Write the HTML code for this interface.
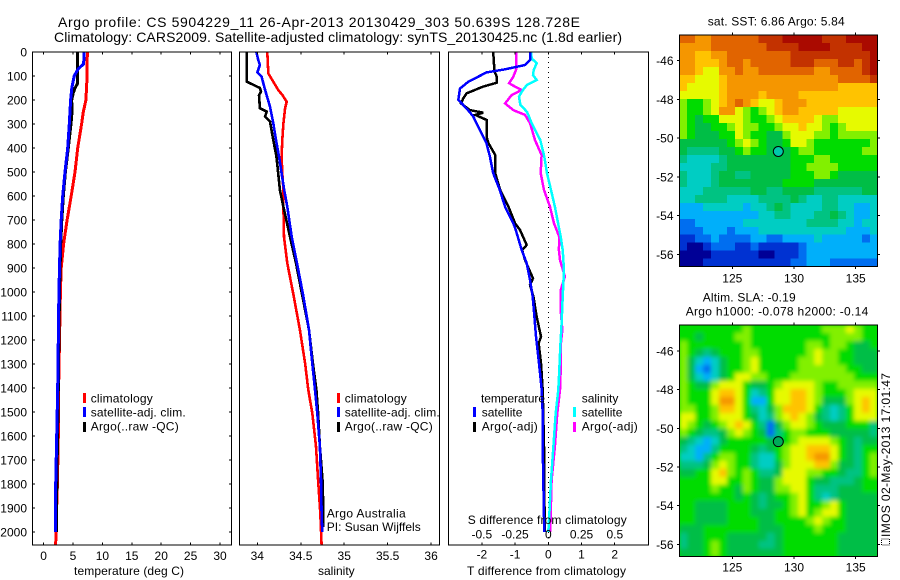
<!DOCTYPE html>
<html>
<head>
<meta charset="utf-8">
<title>Argo profile 5904229</title>
<style>
html,body{margin:0;padding:0;background:#fff;width:900px;height:580px;overflow:hidden}
svg{display:block}
text{font-family:"Liberation Sans",sans-serif;font-size:12px;fill:#000}
.title{font-size:14px}
</style>
</head>
<body>
<svg id="fig" xmlns="http://www.w3.org/2000/svg" width="900" height="580" viewBox="0 0 900 580">
<defs>
<filter id="smooth" x="-5%" y="-5%" width="110%" height="110%"><feGaussianBlur stdDeviation="2.2"/></filter>
<clipPath id="clip-sla"><rect x="679.3" y="325" width="198.4" height="231.7"/></clipPath>
</defs>
<text class="title" x="58" y="27" textLength="522" lengthAdjust="spacing">Argo profile: CS 5904229_11 26-Apr-2013 20130429_303 50.639S 128.728E</text>
<text class="title" x="54" y="42" textLength="568" lengthAdjust="spacing">Climatology: CARS2009. Satellite-adjusted climatology: synTS_20130425.nc (1.8d earlier)</text>
<g id="layer-maps"></g>
<g id="layer-profiles"></g>

<text x="74" y="575" textLength="110">temperature (deg C)</text>
<text x="318" y="575">salinity</text>
<text x="467" y="575" textLength="159">T difference from climatology</text>
<text x="467.7" y="524" textLength="159">S difference from climatology</text>

<g>
<rect x="83" y="393" width="3" height="10" fill="#f00"/>
<rect x="83" y="407" width="3" height="10" fill="#00f"/>
<rect x="83" y="422" width="3" height="10" fill="#000"/>
<text x="90.7" y="402.7" textLength="62">climatology</text>
<text x="90.7" y="416.7" textLength="95">satellite-adj. clim.</text>
<text x="90.7" y="430.7" textLength="88">Argo(..raw -QC)</text>
</g>
<g>
<rect x="337" y="393" width="3" height="10" fill="#f00"/>
<rect x="337" y="407" width="3" height="10" fill="#00f"/>
<rect x="337" y="422" width="3" height="10" fill="#000"/>
<text x="344.7" y="402.7" textLength="62">climatology</text>
<text x="344.7" y="416.7" textLength="95">satellite-adj. clim.</text>
<text x="344.7" y="430.7" textLength="88">Argo(..raw -QC)</text>
<text x="326.7" y="517.3" textLength="79">Argo Australia</text>
<text x="326.7" y="531" textLength="94">PI: Susan Wijffels</text>
</g>
<g>
<text x="481" y="402.7" textLength="64">temperature</text>
<rect x="473" y="407" width="3" height="10" fill="#00f"/>
<rect x="473" y="422" width="3" height="10" fill="#000"/>
<text x="481.7" y="416.7">satellite</text>
<text x="481.7" y="430.7" textLength="56">Argo(-adj)</text>
<text x="581.7" y="402.7">salinity</text>
<rect x="573" y="407" width="3" height="10" fill="#0ff"/>
<rect x="573" y="422" width="3" height="10" fill="#f0f"/>
<text x="581.7" y="416.7">satellite</text>
<text x="581.7" y="430.7" textLength="56">Argo(-adj)</text>
</g>

<text x="707.7" y="25.7" textLength="137">sat. SST: 6.86 Argo: 5.84</text>
<text x="702.7" y="301.7" textLength="93">Altim. SLA: -0.19</text>
<text x="685.7" y="315.7" textLength="182.6">Argo h1000: -0.078 h2000: -0.14</text>
<text transform="translate(890 537) rotate(-90)" textLength="164">IMOS 02-May-2013 17:01:47</text>
<rect x="881.5" y="539" width="8" height="6" fill="none" stroke="#000" stroke-width="1" stroke-dasharray="1 1"/>
</svg>

<script>
/* ---------- profile data ---------- */
const climDepth = [0,100,200,250,300,400,500,600,700,800,900,1000,1400,1600,1800,2000,2054];
const climTemp = [7.43,7.4,7.2,6.75,6.47,5.8,5.34,4.7,4.0,3.4,3.0,2.85,2.55,2.5,2.35,2.1,2.05];
const satDepth = [0,50,70,100,150,200,300,400,500,600,700,800,1000,1400,1800,2000];
const satTemp = [6.9,6.8,5.9,5.2,4.8,4.6,4.37,4.1,3.64,3.25,3.0,2.8,2.6,2.4,2.05,2.05];
const argoDepth = [0,130,150,170,200,250,300,400,500,600,700,800,1000,1400,1800,2000];
const argoTemp = [5.8,5.8,5.34,5.05,4.78,4.83,4.66,4.2,3.7,3.35,3.1,2.9,2.7,2.5,2.25,2.2];

const climSalDepth = [0,89,124,158,180,207,234,297,367,435,505,575,645,770,880,1019,1158,1297,1408,1505,1644,1783,1922,2054];
const climSal = [34.115,34.127,34.184,34.24,34.29,34.338,34.32,34.30,34.288,34.28,34.288,34.30,34.30,34.307,34.345,34.42,34.49,34.55,34.587,34.633,34.676,34.70,34.725,34.74];
const satSalDepth = [0,33,54,85,103,158,228,297,367,435,505,575,645,770,880,1019,1158,1297,1408,1505,1644,1783,1922,2000];
const satSal = [33.99,34.01,34.03,34.0,34.05,34.09,34.146,34.184,34.215,34.25,34.28,34.31,34.345,34.396,34.457,34.53,34.595,34.633,34.664,34.69,34.72,34.733,34.74,34.748];
const argoSalDepth = [0,124,130,150,165,180,234,248,269,290,367,435,505,575,645,770,880,1019,1158,1297,1408,1505,1644,1783,1900,1980];
const argoSal = [33.88,33.88,33.916,34.03,34.043,34.02,34.03,34.108,34.09,34.146,34.184,34.22,34.24,34.26,34.30,34.376,34.445,34.52,34.595,34.64,34.68,34.70,34.72,34.75,34.76,34.76];

const diffTArgoDepth = [0,82,103,128,144,172,193,214,242,253,262,283,353,380,429,505,575,645,714,742,804,825,867,915,943,971,1019,1103,1186,1214,1297,1408,1644,1783,2000];
const diffTArgo = [-1.66,-1.62,-1.55,-1.55,-1.96,-2.46,-2.56,-2.63,-2.36,-1.96,-2.2,-1.86,-1.86,-1.8,-1.6,-1.6,-1.45,-1.2,-1.0,-0.85,-0.65,-0.79,-0.7,-0.55,-0.46,-0.55,-0.45,-0.35,-0.22,-0.29,-0.22,-0.17,-0.13,-0.13,-0.1];
const diffTSatDepth = [0,33,54,72,85,124,152,200,235,269,325,380,436,505,575,645,714,742,825,880,950,1019,1103,1186,1297,1408,1505,1644,1783,2000];
const diffTSat = [-0.55,-0.55,-0.7,-1.3,-1.86,-2.41,-2.66,-2.71,-2.46,-2.26,-2.06,-1.86,-1.76,-1.66,-1.46,-1.3,-1.05,-0.98,-0.8,-0.65,-0.55,-0.47,-0.42,-0.37,-0.28,-0.2,-0.17,-0.17,-0.15,-0.12];
const diffSSatDepth = [0,27,47,75,96,117,137,158,186,221,249,297,367,436,505,575,645,770,825,908,1019,1130,1228,1325,1408,1505,1644,1783,1922,2000];
const diffSSat = [-0.13,-0.125,-0.087,-0.11,-0.115,-0.087,-0.16,-0.19,-0.22,-0.21,-0.16,-0.125,-0.06,-0.03,-0.01,0.02,0.05,0.093,0.108,0.118,0.108,0.1,0.09,0.083,0.075,0.056,0.038,0.02,0.008,0];
const diffSArgoDepth = [0,75,103,130,144,158,179,214,242,262,297,367,429,505,575,645,714,770,825,867,936,992,1075,1158,1214,1297,1408,1505,1644,1783,1922,2000];
const diffSArgo = [-0.243,-0.243,-0.263,-0.295,-0.25,-0.2,-0.275,-0.325,-0.263,-0.175,-0.137,-0.1,-0.05,-0.057,-0.032,0.013,0.043,0.083,0.08,0.088,0.125,0.093,0.093,0.105,0.095,0.095,0.088,0.068,0.05,0.025,0.018,0.015];

/* ---------- tick labels ---------- */
const depthTicks = [0,100,200,300,400,500,600,700,800,900,1000,1100,1200,1300,1400,1500,1600,1700,1800,1900,2000];
const tempTicks = [0,5,10,15,20,25,30];
const salTicks = [34,34.5,35,35.5,36];
const diffTTicks = [-2,-1,0,1,2];
const diffSTicks = [-0.5,-0.25,0,0.25,0.5];
const lonTicks = [125,130,135];
const latTicks = [-46,-48,-50,-52,-54,-56];
const argoLon = 128.728;
const argoLat = -50.69;

/* ---------- map grids: rows north to south, values are colour-scale levels ---------- */
const sstLevels = [
[12,12,11,11,12,12,12,12,12,12,13,13,13,14,14,14,14,14,13,13,13,14,14,14,14],
[11,11,11,11,12,12,12,12,12,12,12,13,13,13,13,14,14,14,14,13,13,13,13,14,14],
[11,11,10,10,11,11,12,12,12,12,12,12,12,12,13,13,13,13,13,13,13,13,13,13,14],
[11,11,10,10,10,11,12,12,11,12,12,12,12,12,13,13,13,12,12,12,13,13,12,13,14],
[11,11,10,9,9,11,11,12,11,11,12,12,12,12,12,12,12,11,11,12,12,12,12,13,14],
[10,10,9,9,9,10,11,11,11,11,11,11,11,11,11,11,11,11,11,11,12,12,12,12,13],
[10,9,9,9,9,10,11,11,11,11,11,11,11,11,11,11,11,11,11,11,10,10,10,10,10],
[9,9,9,9,9,10,11,11,11,11,10,11,11,11,11,10,10,10,10,10,10,10,10,10,10],
[8,7,7,8,9,10,11,12,11,10,9,9,10,11,11,11,10,10,10,10,10,10,10,10,10],
[8,7,7,8,9,11,11,9,8,7,8,9,10,11,11,10,10,10,10,10,9,9,9,9,9],
[8,7,6,7,7,9,9,9,8,7,7,8,9,10,10,10,10,9,8,8,9,9,9,9,9],
[8,7,6,6,7,7,8,9,8,8,7,7,8,9,9,10,9,9,8,7,8,9,9,9,9],
[8,7,6,6,6,7,7,9,8,7,7,6,6,8,9,9,9,8,8,7,8,8,8,8,8],
[6,6,6,6,6,6,7,8,9,8,7,6,6,7,9,9,8,7,7,7,7,7,7,7,8],
[6,5,5,5,5,6,6,7,8,7,7,6,6,6,7,8,8,7,7,7,7,7,7,8,8],
[5,4,4,4,4,5,6,6,6,6,6,6,6,6,7,7,7,8,8,7,7,7,7,7,7],
[4,4,4,4,5,5,6,6,6,6,6,6,6,6,7,7,8,8,8,8,7,7,7,7,7],
[5,4,4,4,5,6,6,5,5,6,6,6,6,6,7,7,7,8,8,7,6,6,6,6,6],
[5,4,4,4,5,6,6,6,6,6,6,6,6,7,7,7,7,6,6,6,6,6,6,6,6],
[4,4,4,5,5,5,5,5,5,6,6,5,5,6,6,6,6,5,5,5,5,5,5,6,6],
[4,4,5,5,5,5,4,4,4,4,5,5,5,5,6,5,4,4,5,5,4,4,4,4,4],
[3,3,3,4,4,4,4,4,3,4,4,5,6,5,4,4,4,4,5,5,4,4,3,3,4],
[3,3,3,3,3,3,3,3,3,3,4,4,5,5,4,4,4,5,5,6,5,4,3,3,4],
[2,2,3,3,3,3,3,3,4,4,4,4,4,4,4,4,5,5,5,5,4,4,3,4,4],
[2,2,2,3,3,3,2,3,3,3,4,4,4,4,4,4,4,4,4,4,4,3,3,3,4],
[1,1,2,2,3,2,2,2,2,3,3,2,2,3,3,3,3,4,3,3,3,3,3,2,3],
[1,0,0,1,2,2,2,1,1,2,1,1,1,1,1,2,3,3,3,3,3,3,3,3,3],
[0,0,0,0,1,1,1,1,1,1,0,0,1,1,1,2,3,3,3,3,3,3,3,3,3],
[0,0,0,1,1,1,1,1,1,1,1,1,1,1,2,2,3,3,3,2,2,2,2,2,2]
];
const slaLevels = [
[7,7,7,7,7,7,7,7,8,7,7,7,7,7,7,7,7,7,8,8,8,9,8,7,7],
[7,7,6,7,7,7,7,8,8,7,7,7,7,7,7,7,7,7,7,8,8,8,8,7,7],
[8,7,7,7,7,7,7,7,8,7,7,7,7,7,7,7,8,8,7,8,8,7,6,6,7],
[8,7,6,5,6,7,7,7,8,8,7,7,7,7,7,7,8,9,8,8,7,7,6,6,6],
[8,6,4,3,4,6,7,7,8,9,7,7,7,7,7,8,8,9,8,8,7,7,6,6,6],
[8,6,3,2,4,6,7,7,8,9,7,7,7,7,7,8,8,8,8,8,8,7,7,6,6],
[8,6,4,3,4,6,7,9,9,8,8,7,7,7,8,8,8,8,8,8,8,8,7,7,7],
[8,7,6,6,8,9,9,9,7,6,6,7,8,9,9,9,9,8,7,7,8,8,8,8,8],
[8,7,7,7,9,10,10,9,7,4,5,7,9,9,10,10,9,8,7,7,7,8,9,9,9],
[8,7,7,7,9,11,11,9,7,3,3,7,9,9,10,10,9,8,6,6,6,8,9,10,9],
[8,8,7,7,8,10,10,9,7,5,4,6,8,10,10,10,9,7,5,4,5,7,9,10,9],
[9,9,7,7,8,9,9,9,7,6,4,5,8,9,10,9,8,6,5,4,5,7,9,9,9],
[9,8,7,6,7,8,9,10,9,7,5,2,6,8,9,9,8,7,6,6,6,7,7,7,5],
[8,7,6,5,5,6,8,9,8,7,6,2,5,7,8,8,7,7,7,6,6,6,6,6,5],
[6,5,4,3,4,6,7,7,7,7,7,6,6,7,8,9,9,9,9,8,7,6,5,6,6],
[5,4,3,3,5,7,7,7,7,6,5,6,7,8,9,9,10,10,10,9,7,6,5,7,7],
[4,4,3,5,7,8,8,7,7,5,4,4,7,8,9,9,10,11,11,9,7,6,5,7,8],
[5,5,5,6,8,9,8,7,7,5,4,4,6,8,9,9,9,10,10,8,6,6,5,7,8],
[6,6,7,7,9,10,8,7,8,7,5,5,6,9,9,9,8,8,7,7,6,5,5,7,8],
[7,7,7,7,9,9,7,7,8,7,6,6,8,9,9,9,7,6,6,5,5,5,6,7,7],
[7,7,7,7,8,7,7,6,8,7,6,6,8,8,9,9,7,5,5,5,6,6,6,7,7],
[7,7,7,7,7,7,7,6,7,6,5,6,7,7,8,9,7,5,4,5,6,6,6,6,6],
[7,7,6,6,6,6,7,7,7,6,5,6,6,7,8,9,7,7,8,9,7,6,6,6,6],
[7,7,6,6,6,6,7,7,7,6,6,6,7,7,8,9,7,8,9,9,7,6,6,6,6],
[7,7,6,6,6,6,7,7,7,7,6,6,7,7,7,7,8,9,8,7,7,6,6,6,6],
[6,6,6,7,7,7,7,7,7,7,6,6,6,7,7,7,7,8,7,7,7,6,6,6,6],
[5,6,6,7,7,7,6,6,6,6,6,5,6,7,7,7,7,7,7,7,6,6,6,6,6],
[5,6,6,7,8,7,6,6,6,6,5,5,6,7,7,7,7,7,7,7,6,6,6,6,6],
[6,6,6,7,8,7,6,6,6,6,6,6,6,7,7,7,7,7,7,7,6,6,6,6,6]
];

/* ---------- layout and colour ---------- */
const palette = ['rgb(0,0,150)','rgb(0,50,210)','rgb(0,110,240)','rgb(0,175,250)','rgb(0,205,195)','rgb(0,195,130)','rgb(0,190,70)','rgb(0,220,0)','rgb(130,240,0)','rgb(230,250,0)','rgb(255,195,0)','rgb(245,150,0)','rgb(225,100,0)','rgb(195,50,0)','rgb(170,10,0)'];
const NS = 'http://www.w3.org/2000/svg';
const panelTop = 52, panelBottom = 545;
const yDepth = d => panelTop + 0.24 * d;
const xTemp = t => 43.6 + 5.88 * t;
const xSal = s => 257.3 + 86.9 * (s - 34);
const xDiffT = t => 548.3 + 33.2 * t;
const xDiffS = s => 548.3 + 133 * s;
const xLon = lon => 732.3 + 12.34 * (lon - 125);
const yLatSst = lat => 60.7 + 19.36 * (-46 - lat);
const yLatSla = lat => 351 + 19.33 * (-46 - lat);
const profiles = document.getElementById('layer-profiles');
const maps = document.getElementById('layer-maps');

function node(parent, tag, attrs, content) {
  const el = document.createElementNS(NS, tag);
  for (const k in attrs) el.setAttribute(k, attrs[k]);
  if (content !== undefined) el.textContent = content;
  parent.appendChild(el);
  return el;
}
function frame(parent, x, y, w, h, name) {
  const el = node(parent, 'rect', {x: x, y: y, width: w, height: h, fill: 'none', stroke: '#000', 'stroke-width': 1, 'shape-rendering': 'crispEdges'});
  
  
}
function tick(parent, x1, y1, x2, y2, name) {
  const el = node(parent, 'line', {x1: x1, y1: y1, x2: x2, y2: y2, stroke: '#000', 'stroke-width': 1, 'shape-rendering': 'crispEdges'});
  
  
}
function label(parent, x, y, anchor, str, name) {
  const el = node(parent, 'text', {x: x, y: y, 'text-anchor': anchor}, str);
  
  
}
function profile(parent, depths, vals, xf, color, width, name) {
  const pts = depths.map((d, i) => xf(vals[i]).toFixed(1) + ',' + yDepth(d).toFixed(1)).join(' ');
  const el = node(parent, 'polyline', {points: pts, fill: 'none', stroke: color, 'stroke-width': width, 'shape-rendering': 'crispEdges', 'stroke-linejoin': 'miter'});
  
  
}
function xAxis(parent, ticks, xf, name) {
  ticks.forEach(v => {
    tick(parent, xf(v), panelTop, xf(v), panelTop + 2.5, name + '-tick-top');
    tick(parent, xf(v), panelBottom, xf(v), panelBottom - 2.5, name + '-tick-bottom');
  });
}
function heatmap(parent, rows, x0, y0, w, h, name) {
  const cw = w / rows[0].length, ch = h / rows.length;
  rows.forEach((row, r) => row.forEach((lvl, c) => {
    const el = node(parent, 'rect', {x: (x0 + c * cw).toFixed(2), y: (y0 + r * ch).toFixed(2), width: (cw + 0.4).toFixed(2), height: (ch + 0.4).toFixed(2), fill: palette[lvl]});
    
    
  }));
}
function mapAxes(parent, x0, y0, w, h, yLat, xLabelY, name) {
  lonTicks.forEach(v => {
    tick(parent, xLon(v), y0, xLon(v), y0 - 2.5, name + '-lon-tick-top');
    tick(parent, xLon(v), y0 + h, xLon(v), y0 + h + 2.5, name + '-lon-tick-bottom');
    label(parent, xLon(v), xLabelY, 'middle', String(v), name + '-lon-label');
  });
  latTicks.forEach(v => {
    tick(parent, x0, yLat(v), x0 - 2.5, yLat(v), name + '-lat-tick-left');
    tick(parent, x0 + w, yLat(v), x0 + w + 2.5, yLat(v), name + '-lat-tick-right');
    label(parent, 673.5, yLat(v) + 4.5, 'end', String(v), name + '-lat-label');
  });
  frame(parent, x0, y0, w, h, name + '-frame');
}
function marker(parent, cx, cy, fill, name) {
  const el = node(parent, 'circle', {cx: cx, cy: cy, r: 5, fill: fill, stroke: '#000', 'stroke-width': 1});
  
  
}

/* ---------- temperature panel ---------- */
const p1 = node(profiles, 'g', {});


profile(p1, climDepth, climTemp, xTemp, '#f00', 3, 'temperature-climatology-line');
profile(p1, argoDepth, argoTemp, xTemp, '#000', 3, 'temperature-argo-line');
profile(p1, satDepth, satTemp, xTemp, '#00f', 3, 'temperature-satellite-line');
frame(p1, 32.5, panelTop, 199, panelBottom - panelTop, 'temperature-panel-frame');
xAxis(p1, tempTicks, xTemp, 'temperature');
tempTicks.forEach(v => label(p1, xTemp(v), 560, 'middle', String(v), 'temperature-tick-label'));
depthTicks.forEach(v => {
  tick(p1, 32.5, yDepth(v), 35, yDepth(v), 'depth-tick-left');
  tick(p1, 231.5, yDepth(v), 229, yDepth(v), 'depth-tick-right');
  label(p1, 27, yDepth(v) + 4.5, 'end', String(v), 'depth-tick-label');
});

/* ---------- salinity panel ---------- */
const p2 = node(profiles, 'g', {});


profile(p2, climSalDepth, climSal, xSal, '#f00', 2.6, 'salinity-climatology-line');
profile(p2, argoSalDepth, argoSal, xSal, '#000', 2.6, 'salinity-argo-line');
profile(p2, satSalDepth, satSal, xSal, '#00f', 2.6, 'salinity-satellite-line');
frame(p2, 239.5, panelTop, 200, panelBottom - panelTop, 'salinity-panel-frame');
xAxis(p2, salTicks, xSal, 'salinity');
salTicks.forEach(v => label(p2, xSal(v), 560, 'middle', String(v), 'salinity-tick-label'));

/* ---------- difference panel ---------- */
const p3 = node(profiles, 'g', {});


const zero = node(p3, 'line', {x1: xDiffT(0), y1: panelTop, x2: xDiffT(0), y2: panelBottom, stroke: '#000', 'stroke-width': 1, 'stroke-dasharray': '1 4', 'shape-rendering': 'crispEdges'});


profile(p3, diffSArgoDepth, diffSArgo, xDiffS, '#f0f', 2.5, 's-difference-argo-line');
profile(p3, diffSSatDepth, diffSSat, xDiffS, '#0ff', 2.5, 's-difference-satellite-line');
profile(p3, diffTArgoDepth, diffTArgo, xDiffT, '#000', 2.5, 't-difference-argo-line');
profile(p3, diffTSatDepth, diffTSat, xDiffT, '#00f', 2.5, 't-difference-satellite-line');
frame(p3, 448.5, panelTop, 200, panelBottom - panelTop, 'difference-panel-frame');
xAxis(p3, diffTTicks, xDiffT, 't-difference');
diffTTicks.forEach(v => label(p3, xDiffT(v), 558.3, 'middle', String(v), 't-difference-tick-label'));
diffSTicks.forEach(v => label(p3, xDiffS(v), 538.3, 'middle', String(v), 's-difference-tick-label'));

/* ---------- SST map ---------- */
const m1 = node(maps, 'g', {});


const m1cells = node(m1, 'g', {'shape-rendering': 'crispEdges'});


heatmap(m1cells, sstLevels, 679.3, 35, 198.4, 231.7, 'sst-cell');
mapAxes(m1, 679.3, 35, 198.4, 231.7, yLatSst, 282.5, 'sst-map');
marker(m1, xLon(argoLon), yLatSst(argoLat), 'rgb(0,200,170)', 'sst-argo-position-marker');

/* ---------- SLA map ---------- */
const m2 = node(maps, 'g', {});


const m2clip = node(m2, 'g', {'clip-path': 'url(#clip-sla)'});


const m2base = node(m2clip, 'rect', {x: 679.3, y: 325, width: 198.4, height: 231.7, fill: palette[7]});


const m2cells = node(m2clip, 'g', {filter: 'url(#smooth)'});


heatmap(m2cells, slaLevels, 679.3, 325, 198.4, 231.7, 'sla-cell');
mapAxes(m2, 679.3, 325, 198.4, 231.7, yLatSla, 571.5, 'sla-map');
marker(m2, xLon(argoLon), yLatSla(argoLat), 'rgb(0,170,90)', 'sla-argo-position-marker');
</script>
</body>
</html>
